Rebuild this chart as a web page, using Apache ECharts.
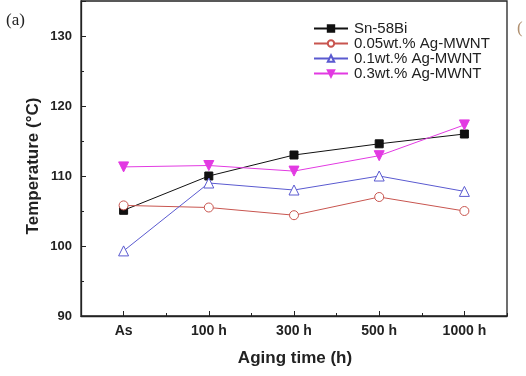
<!DOCTYPE html>
<html><head><meta charset="utf-8">
<script src="https://cdn.jsdelivr.net/npm/echarts@6/dist/echarts.min.js"></script>
<style>html,body{margin:0;padding:0;background:#fff}#c{width:526px;height:376px}</style>
</head><body><div id="c"></div>
<script>
var categories = ['As', '100 h', '300 h', '500 h', '1000 h'];
var seriesNames = ['Sn-58Bi', '0.05wt.% Ag-MWNT', '0.1wt.% Ag-MWNT', '0.3wt.% Ag-MWNT'];
var snBi = [105.1, 110.0, 113.0, 114.6, 116.0];
var ag005 = [105.8, 105.5, 104.4, 107.0, 105.0];
var ag01 = [99.3, 109.0, 108.0, 110.0, 107.8];
var ag03 = [111.3, 111.5, 110.7, 112.9, 117.3];
var yTicks = [90, 100, 110, 120, 130];

var F = '"Liberation Sans", Arial, sans-serif';
var chart = echarts.init(document.getElementById('c'));
function mk(name, data, color, symbol, size, rot, fill) {
  return {
    name: name, type: 'line', data: data, xAxisIndex: 0, yAxisIndex: 0,
    symbol: symbol, symbolSize: size, symbolRotate: rot || 0,
    lineStyle: { color: color, width: 1 },
    itemStyle: { color: fill ? color : '#fff', borderColor: color, borderWidth: 1 },
    emphasis: { disabled: true }, animation: false, z: 3
  };
}
chart.setOption({
  animation: false,
  grid: { left: 81, right: 19, top: 1, bottom: 60, show: true, borderColor: '#222', borderWidth: 1.3, backgroundColor: 'transparent' },
  legend: {
    data: seriesNames, orient: 'vertical', left: 308, top: 16,
    itemWidth: 34, itemHeight: 8, itemGap: 0,
    textStyle: { fontFamily: F, fontSize: 15, color: '#222', lineHeight: 14.5, padding: [0, 0, 0, 1] }
  },
  xAxis: [{
    type: 'category', data: categories, boundaryGap: true,
    axisLine: { lineStyle: { color: '#222', width: 1.3 } },
    axisTick: { show: true, inside: true, alignWithLabel: true, length: 5, lineStyle: { color: '#222' } },
    axisLabel: { fontFamily: F, fontSize: 14, fontWeight: 'bold', color: '#222', margin: 8 }
  }, {
    type: 'category', data: categories, boundaryGap: true, position: 'bottom',
    axisLine: { show: false },
    axisTick: { show: true, inside: true, alignWithLabel: false, length: 3, lineStyle: { color: '#222' } },
    axisLabel: { show: false }
  }],
  yAxis: [{
    type: 'value', min: 90, max: 135, interval: 10,
    axisLine: { show: true, lineStyle: { color: '#222', width: 1.3 } },
    axisTick: { show: true, inside: true, length: 5, lineStyle: { color: '#222' } },
    splitLine: { show: false },
    axisLabel: { fontFamily: F, fontSize: 13, fontWeight: 'bold', color: '#222', margin: 9,
      formatter: function (v) { return yTicks.indexOf(v) >= 0 ? String(v) : ''; } }
  }, {
    type: 'value', min: 90, max: 135, interval: 5, position: 'left',
    axisLine: { show: false }, splitLine: { show: false },
    axisTick: { show: true, inside: true, length: 3, lineStyle: { color: '#222' } },
    axisLabel: { show: false }
  }],
  graphic: [
    { type: 'text', left: 6, top: 12, style: { text: '(a)', font: '17px "Liberation Serif", serif', fill: '#222' } },
    { type: 'text', left: 517, top: 20, style: { text: '(', font: '17px "Liberation Serif", serif', fill: '#b09070' } },
    { type: 'text', x: 33, y: 166, rotation: Math.PI / 2,
      style: { text: 'Temperature (\u00B0C)', font: 'bold 17px "Liberation Sans", Arial, sans-serif', fill: '#222', align: 'center', verticalAlign: 'middle' } },
    { type: 'text', x: 295, y: 358,
      style: { text: 'Aging time (h)', font: 'bold 17px "Liberation Sans", Arial, sans-serif', fill: '#222', align: 'center', verticalAlign: 'middle' } }
  ],
  series: [
    mk(seriesNames[0], snBi, '#111', 'rect', 8, 0, true),
    mk(seriesNames[1], ag005, '#c8554f', 'circle', 9, 0, false),
    mk(seriesNames[2], ag01, '#5a5ad0', 'triangle', 10, 0, false),
    mk(seriesNames[3], ag03, '#e23ae2', 'triangle', 10, 180, true)
  ]
});
</script></body></html>
